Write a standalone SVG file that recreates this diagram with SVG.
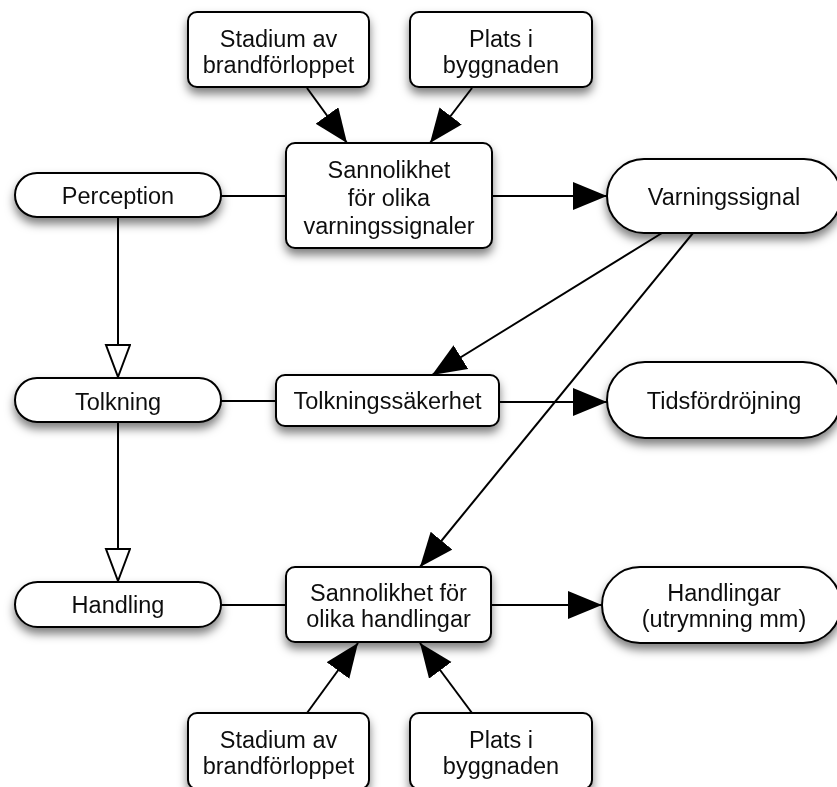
<svg xmlns="http://www.w3.org/2000/svg" width="837" height="787" viewBox="0 0 837 787">
  <defs>
    <filter id="shadow" x="-20%" y="-30%" width="140%" height="190%">
      <feDropShadow dx="0" dy="6" stdDeviation="5" flood-color="#000" flood-opacity="0.5"/>
    </filter>
    <marker id="solid" markerUnits="userSpaceOnUse" markerWidth="36" markerHeight="30" refX="34" refY="14" orient="auto">
      <path d="M0,0 L34,14 L0,28 z" fill="#000"/>
    </marker>
    <marker id="hollow" markerUnits="userSpaceOnUse" markerWidth="36" markerHeight="30" refX="34" refY="13" orient="auto">
      <path d="M1,1 L33,13 L1,25 z" fill="#fff" stroke="#000" stroke-width="2"/>
    </marker>
  </defs>
  <style>
    .box { fill: #fff; stroke: #000; stroke-width: 2; }
    .node { filter: url(#shadow); }
    .lbl { font-family: "Liberation Sans", Arial, Helvetica, sans-serif; font-size: 23.5px; fill: #111; text-anchor: middle; }
    .edge { stroke: #000; stroke-width: 2; fill: none; }
    .arr { marker-end: url(#solid); }
    .gen { marker-end: url(#hollow); }
  </style>
  <rect width="837" height="787" fill="#fff"/>

  <g id="connectors">
    <line class="edge arr" x1="307" y1="88" x2="347" y2="143"/>
    <line class="edge arr" x1="472" y1="88" x2="430" y2="143"/>
    <line class="edge" x1="221" y1="196" x2="286" y2="196"/>
    <line class="edge arr" x1="492" y1="196" x2="607" y2="196"/>
    <line class="edge gen" x1="118" y1="217" x2="118" y2="378"/>
    <line class="edge" x1="221" y1="401" x2="276" y2="401"/>
    <line class="edge arr" x1="499" y1="402" x2="607" y2="402"/>
    <line class="edge arr" x1="662" y1="233" x2="432" y2="375"/>
    <line class="edge arr" x1="693" y1="233" x2="420" y2="567"/>
    <line class="edge gen" x1="118" y1="422" x2="118" y2="582"/>
    <line class="edge" x1="221" y1="605" x2="286" y2="605"/>
    <line class="edge arr" x1="491" y1="605" x2="602" y2="605"/>
    <line class="edge arr" x1="307" y1="713" x2="358" y2="643"/>
    <line class="edge arr" x1="472" y1="713" x2="420" y2="643"/>
  </g>

  <g id="stadium-top" class="node">
    <rect class="box" x="188" y="12" width="181" height="75" rx="9"/>
    <text class="lbl" x="278.5" y="47">Stadium av</text>
    <text class="lbl" x="278.5" y="73">brandförloppet</text>
  </g>
  <g id="plats-top" class="node">
    <rect class="box" x="410" y="12" width="182" height="75" rx="9"/>
    <text class="lbl" x="501" y="47">Plats i</text>
    <text class="lbl" x="501" y="73">byggnaden</text>
  </g>
  <g id="sannolikhet-varning" class="node">
    <rect class="box" x="286" y="143" width="206" height="105" rx="9"/>
    <text class="lbl" x="389" y="177.5">Sannolikhet</text>
    <text class="lbl" x="389" y="205.5">för olika</text>
    <text class="lbl" x="389" y="233.5">varningssignaler</text>
  </g>
  <g id="perception" class="node">
    <rect class="box" x="15" y="173" width="206" height="44" rx="22"/>
    <text class="lbl" x="118" y="204">Perception</text>
  </g>
  <g id="varningssignal" class="node">
    <rect class="box" x="607" y="159" width="234" height="74" rx="37"/>
    <text class="lbl" x="724" y="205">Varningssignal</text>
  </g>
  <g id="tolkning" class="node">
    <rect class="box" x="15" y="378" width="206" height="44" rx="22"/>
    <text class="lbl" x="118" y="409.5">Tolkning</text>
  </g>
  <g id="tolkningssakerhet" class="node">
    <rect class="box" x="276" y="375" width="223" height="51" rx="9"/>
    <text class="lbl" x="387.5" y="409">Tolkningssäkerhet</text>
  </g>
  <g id="tidsfordrojning" class="node">
    <rect class="box" x="607" y="362" width="234" height="76" rx="38"/>
    <text class="lbl" x="724" y="408.5">Tidsfördröjning</text>
  </g>
  <g id="handling" class="node">
    <rect class="box" x="15" y="582" width="206" height="45" rx="22.5"/>
    <text class="lbl" x="118" y="613">Handling</text>
  </g>
  <g id="sannolikhet-handling" class="node">
    <rect class="box" x="286" y="567" width="205" height="75" rx="9"/>
    <text class="lbl" x="388.5" y="600.5">Sannolikhet för</text>
    <text class="lbl" x="388.5" y="626.5">olika handlingar</text>
  </g>
  <g id="handlingar" class="node">
    <rect class="box" x="602" y="567" width="239" height="76" rx="38"/>
    <text class="lbl" x="724" y="600.5">Handlingar</text>
    <text class="lbl" x="724" y="626.5">(utrymning mm)</text>
  </g>
  <g id="stadium-bottom" class="node">
    <rect class="box" x="188" y="713" width="181" height="76" rx="9"/>
    <text class="lbl" x="278.5" y="748">Stadium av</text>
    <text class="lbl" x="278.5" y="774">brandförloppet</text>
  </g>
  <g id="plats-bottom" class="node">
    <rect class="box" x="410" y="713" width="182" height="76" rx="9"/>
    <text class="lbl" x="501" y="748">Plats i</text>
    <text class="lbl" x="501" y="774">byggnaden</text>
  </g>
</svg>
